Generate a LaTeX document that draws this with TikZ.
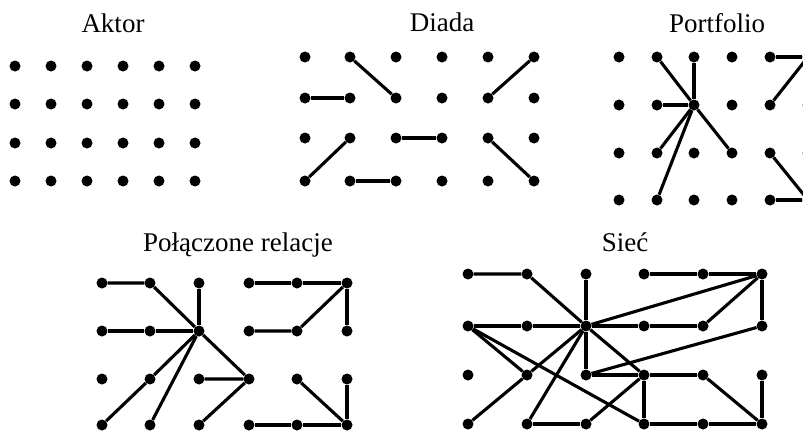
\documentclass[tikz,border=0pt]{standalone}
\usepackage{fontspec}
\setmainfont{Liberation Serif}
\begin{document}
\begin{tikzpicture}[x=1pt,y=-1pt,
  dot/.style={circle,fill=black,inner sep=0pt,minimum size=11pt},
  link/.style={line width=3.1pt},
  lbl/.style={font=\fontsize{27}{32}\selectfont,anchor=base,inner sep=0pt}]
\path[use as bounding box] (0,0) rectangle (803,432);
\clip (0,0) rectangle (803,432);

% labels
\node[lbl] (tA) at (113,32) {Aktor};
\node[lbl] (tD) at (442,31) {Diada};
\node[lbl] (tP) at (717,32) {Portfolio};
\node[lbl] (tR) at (238,251) {Połączone relacje};
\node[lbl] (tS) at (625,251) {Sieć};

% grids
\foreach \c/\x in {1/15,2/51,3/87,4/123,5/159,6/195}
  \foreach \r/\y in {1/66,2/104,3/143,4/181}
    \node[dot] (A-\r-\c) at (\x,\y) {};
\foreach \c/\x in {1/305,2/350,3/396,4/442,5/488,6/534}
  \foreach \r/\y in {1/57,2/98,3/138,4/181}
    \node[dot] (D-\r-\c) at (\x,\y) {};
\foreach \c/\x in {1/619,2/657,3/694,4/732,5/770,6/808}
  \foreach \r/\y in {1/57,2/105,3/153,4/200}
    \node[dot] (P-\r-\c) at (\x,\y) {};
\foreach \c/\x in {1/102,2/150,3/199,4/249,5/297,6/347}
  \foreach \r/\y in {1/283,2/331,3/379,4/425}
    \node[dot] (R-\r-\c) at (\x,\y) {};
\foreach \c/\x in {1/468,2/527,3/586,4/644,5/703,6/762}
  \foreach \r/\y in {1/274,2/326,3/375,4/424}
    \node[dot] (S-\r-\c) at (\x,\y) {};

% Diada
\draw[link] (D-1-2) -- (D-2-3);
\draw[link] (D-2-1) -- (D-2-2);
\draw[link] (D-1-6) -- (D-2-5);
\draw[link] (D-3-2) -- (D-4-1);
\draw[link] (D-3-3) -- (D-3-4);
\draw[link] (D-4-2) -- (D-4-3);
\draw[link] (D-3-5) -- (D-4-6);

% Portfolio
\draw[link] (P-2-3) -- (P-1-2);
\draw[link] (P-2-3) -- (P-1-3);
\draw[link] (P-2-3) -- (P-2-2);
\draw[link] (P-2-3) -- (P-3-2);
\draw[link] (P-2-3) -- (P-4-2);
\draw[link] (P-2-3) -- (P-3-4);
\draw[link] (P-1-5) -- (P-1-6);
\draw[link] (P-2-5) -- (P-1-6);
\draw[link] (P-3-5) -- (P-4-6);
\draw[link] (P-4-5) -- (P-4-6);

% Polaczone relacje
\draw[link] (R-1-1) -- (R-1-2) -- (R-2-3);
\draw[link] (R-1-3) -- (R-2-3);
\draw[link] (R-2-1) -- (R-2-2) -- (R-2-3);
\draw[link] (R-4-1) -- (R-3-2) -- (R-2-3);
\draw[link] (R-2-3) -- (R-4-2);
\draw[link] (R-2-3) -- (R-3-4);
\draw[link] (R-3-3) -- (R-3-4) -- (R-4-3);
\draw[link] (R-1-4) -- (R-1-5) -- (R-1-6) -- (R-2-6);
\draw[link] (R-2-4) -- (R-2-5) -- (R-1-6);
\draw[link] (R-3-5) -- (R-4-6);
\draw[link] (R-3-6) -- (R-4-6);
\draw[link] (R-4-4) -- (R-4-5) -- (R-4-6);

% Siec
\draw[link] (S-1-1) -- (S-1-2) -- (S-2-3);
\draw[link] (S-1-3) -- (S-2-3);
\draw[link] (S-1-4) -- (S-1-5) -- (S-1-6) -- (S-2-6);
\draw[link] (S-2-5) -- (S-1-6);
\draw[link] (S-2-3) -- (S-1-6);
\draw[link] (S-2-1) -- (S-2-2) -- (S-2-3) -- (S-2-4) -- (S-2-5);
\draw[link] (S-2-1) -- (S-3-2);
\draw[link] (S-2-1) -- (S-4-4);
\draw[link] (S-4-1) -- (S-3-2) -- (S-2-3);
\draw[link] (S-2-3) -- (S-4-2);
\draw[link] (S-2-3) -- (S-3-3);
\draw[link] (S-2-3) -- (S-3-4);
\draw[link] (S-3-3) -- (S-2-6);
\draw[link] (S-3-3) -- (S-3-4) -- (S-3-5);
\draw[link] (S-3-4) -- (S-4-4);
\draw[link] (S-3-4) -- (S-4-3);
\draw[link] (S-4-2) -- (S-4-3);
\draw[link] (S-3-5) -- (S-4-6);
\draw[link] (S-3-6) -- (S-4-6);
\draw[link] (S-4-4) -- (S-4-5) -- (S-4-6);
\end{tikzpicture}
\end{document}
